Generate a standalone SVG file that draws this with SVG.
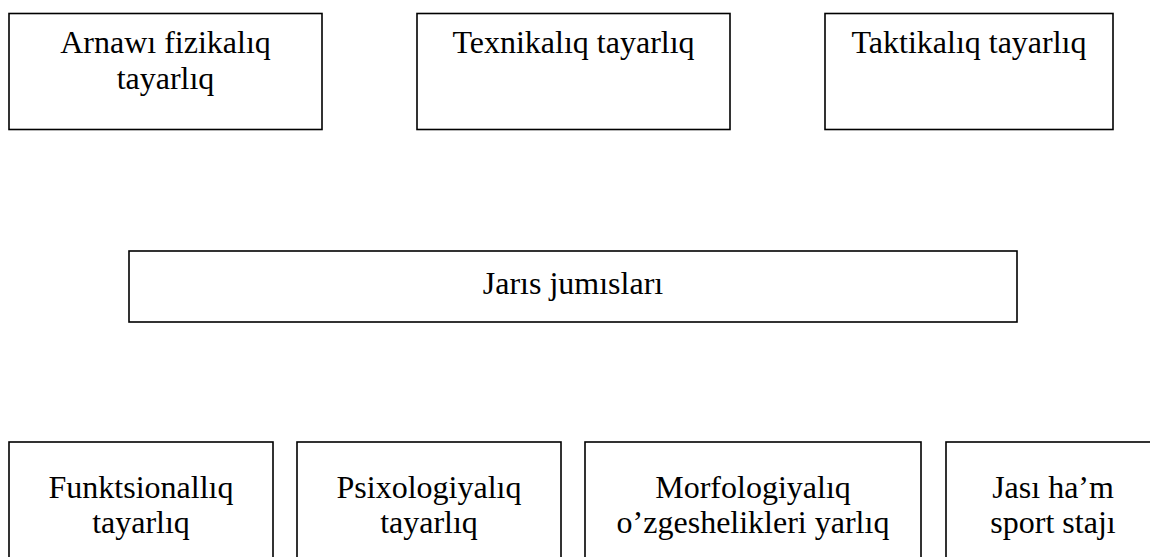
<svg xmlns="http://www.w3.org/2000/svg" width="1150" height="557" viewBox="0 0 1150 557">
  <style>
    .box { fill: #ffffff; stroke: #000000; stroke-width: 1.6; }
    .lbl { font-family: "Liberation Serif", "Times New Roman", serif; font-size: 32px; fill: #000000; text-anchor: middle; }
  </style>
  <rect x="0" y="0" width="1150" height="557" fill="#ffffff"/>
  <g id="connectors"/>
  <g id="node-arnawi">
    <rect class="box" x="9" y="13.5" width="313" height="116"/>
    <text class="lbl" x="165.5" y="53">Arnawı fizikalıq</text>
    <text class="lbl" x="165.5" y="89">tayarlıq</text>
  </g>
  <g id="node-texnikaliq">
    <rect class="box" x="417" y="13.5" width="313" height="116"/>
    <text class="lbl" x="573.5" y="53">Texnikalıq tayarlıq</text>
  </g>
  <g id="node-taktikaliq">
    <rect class="box" x="825" y="13.5" width="288" height="116"/>
    <text class="lbl" x="969" y="53">Taktikalıq tayarlıq</text>
  </g>
  <g id="node-jaris">
    <rect class="box" x="129" y="251" width="888" height="71"/>
    <text class="lbl" x="573" y="294">Jarıs jumısları</text>
  </g>
  <g id="node-funktsional">
    <rect class="box" x="9" y="442" width="264" height="130"/>
    <text class="lbl" x="141" y="498">Funktsionallıq</text>
    <text class="lbl" x="141" y="533">tayarlıq</text>
  </g>
  <g id="node-psixologiyaliq">
    <rect class="box" x="297" y="442" width="264" height="130"/>
    <text class="lbl" x="429" y="498">Psixologiyalıq</text>
    <text class="lbl" x="429" y="533">tayarlıq</text>
  </g>
  <g id="node-morfologiyaliq">
    <rect class="box" x="585" y="442" width="336" height="130"/>
    <text class="lbl" x="753" y="498">Morfologiyalıq</text>
    <text class="lbl" x="753" y="533">o’zgeshelikleri yarlıq</text>
  </g>
  <g id="node-jasi">
    <rect class="box" x="946" y="442" width="214" height="130"/>
    <text class="lbl" x="1053" y="498">Jası ha’m</text>
    <text class="lbl" x="1053" y="533">sport stajı</text>
  </g>
</svg>
